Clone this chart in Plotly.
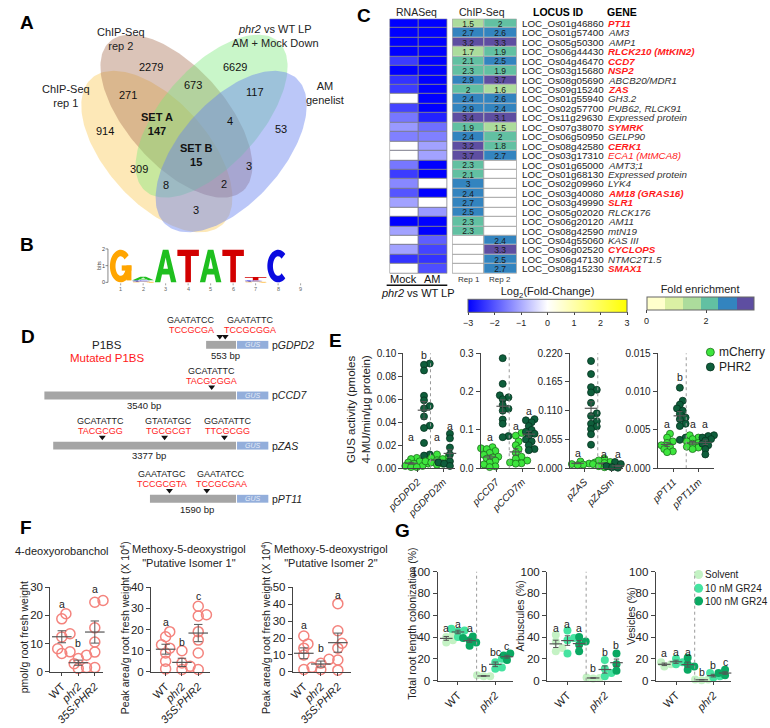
import numpy as np
import plotly.graph_objects as go

W, H = 770, 728
FONT = "Liberation Sans, Arial, Helvetica, sans-serif"

# ======================= DATA =======================
# --- Panel A: Venn diagram ---
venn_set_names = ["ChIP-Seq<br>rep 1", "ChIP-Seq<br>rep 2",
                  "<i>phr2</i> vs WT LP<br>AM + Mock Down", "AM<br>genelist"]
venn_counts = [914, 2279, 6629, 53, 271, 673, 117, 147, 4, 15, 309, 3, 8, 2, 3]
venn_region_tags = ["", "", "", "", "", "", "", "SET A", "", "SET B", "", "", "", "", ""]

# --- Panel B: P1BS motif logo (letter, bits), bottom -> top ---
logo_columns = [[("G", 1.95)],
                [("G", 0.05), ("C", 0.07), ("A", 0.22)],
                [("A", 1.95)], [("T", 1.95)], [("A", 1.95)], [("T", 1.95)],
                [("G", 0.05), ("C", 0.07), ("T", 0.2)],
                [("C", 1.95)], []]

# --- Panel C: heatmaps ---
c_loci = ["LOC_Os01g46860", "LOC_Os01g57400", "LOC_Os05g50300", "LOC_Os06g44430",
          "LOC_Os04g46470", "LOC_Os03g15680", "LOC_Os08g05690", "LOC_Os09g15240",
          "LOC_Os01g55940", "LOC_Os02g57700", "LOC_Os11g29630", "LOC_Os07g38070",
          "LOC_Os06g50950", "LOC_Os08g42580", "LOC_Os03g17310", "LOC_Os01g65000",
          "LOC_Os01g68130", "LOC_Os02g09960", "LOC_Os03g40080", "LOC_Os03g49990",
          "LOC_Os05g02020", "LOC_Os06g20120", "LOC_Os08g42590", "LOC_Os04g55060",
          "LOC_Os06g02520", "LOC_Os06g47130", "LOC_Os08g15230"]
c_genes = ["PT11", "AM3", "AMP1", "RLCK210 (MtKIN2)", "CCD7", "NSP2", "ABCB20/MDR1", "ZAS",
           "GH3.2", "PUB62, RLCK91", "Expressed protein", "SYMRK", "GELP90", "CERK1",
           "ECA1 (MtMCA8)", "AMT3;1", "Expressed protein", "LYK4", "AM18 (GRAS16)", "SLR1",
           "RLCK176", "AM11", "mtN19", "KAS III", "CYCLOPS", "NTMC2T1.5", "SMAX1"]
c_gene_mark = [2, 0, 0, 2, 2, 2, 0, 2, 0, 0, 0, 2, 0, 2, 1, 0, 0, 0, 2, 2, 0, 0, 0, 0, 2, 0, 2]
c_rna_mock = [-3, -3, -3, -3, -2.3, -3, -2.4, -2.3, 0, -2.2, -1.6, -1.2, -1.5, 0, 0,
              -1.6, -2.3, -1.4, -2.0, -1.1, 0, -3, -1.1, 0, -1.1, -2.4, 0]
c_rna_am = [-3, -3, -3, -3, -3, -3, -3, -3, -3, -3, -2.6, -1.7, -1.5, -1.1, -1.1,
            -3, -3, 0, -3, 0, -1.2, -3, -3, -1.9, -2.2, -2.4, -2.1]
c_chip_rep1 = [1.5, 2.7, 3.2, 1.7, 2.1, 2.3, 2.9, 2, 2.4, 2.9, 3.4, 1.9, 2.4, 3.2, 3.7,
               2.3, 2.1, 3, 2.4, 2.7, 2.5, 2.3, 2.3, None, None, None, None]
c_chip_rep2 = [2, 2.6, 3.3, 1.9, 2.5, 1.9, 3.7, 1.6, 2.6, 2.4, 3.1, 1.5, 2, 1.8, 2.7,
               None, None, None, None, None, None, None, None, 2.4, 3.3, 2.5, 2.7]
c_fc_ticks = [-3, -2, -1, 0, 1, 2, 3]
c_fe_ticks = [0, 2]

# --- Panel D: promoter constructs ---
d_promoters = ["GDPD2", "CCD7", "ZAS", "PT11"]
d_length_bp = [553, 3540, 3377, 1590]
d_site_bp = [[300, 200], [450], [2470, 1320, 215], [1230, 540]]
d_site_wt = [["GAATATCC", "GAATATTC"], ["GCATATTC"],
             ["GCATATTC", "GTATATGC", "GGATATTC"], ["GAATATGC", "GAATATCC"]]
d_site_mut = [["TCCGCGA", "TCCGCGGA"], ["TACGCGGA"],
              ["TACGCGG", "TGCGCGT", "TTCGCGG"], ["TCCGCGTA", "TCCGCGAA"]]

# --- Panel E: GUS activity ---
e_gdpd2_mch = [0.009, 0.008, 0.007, 0.006, 0.005, 0.004, 0.004, 0.003, 0.002, 0.002, 0.001, 0.001]
e_gdpd2_phr = [0.091, 0.090, 0.085, 0.063, 0.059, 0.054, 0.052, 0.045, 0.037, 0.035, 0.022, 0.012, 0.011]
e_gdpd2m_mch = [0.012, 0.010, 0.009, 0.008, 0.007, 0.006, 0.006, 0.005, 0.004, 0.003]
e_gdpd2m_phr = [0.032, 0.030, 0.026, 0.018, 0.012, 0.006, 0.005, 0.004, 0.004, 0.003, 0.002]
e_ccd7_mch = [0.055, 0.052, 0.050, 0.045, 0.040, 0.035, 0.030, 0.028, 0.025, 0.020, 0.015, 0.010, 0.005, 0.003]
e_ccd7_phr = [0.287, 0.220, 0.190, 0.185, 0.180, 0.165, 0.155, 0.150, 0.127, 0.116, 0.084, 0.081]
e_ccd7m_mch = [0.092, 0.085, 0.070, 0.060, 0.050, 0.040, 0.030, 0.025, 0.020, 0.015, 0.013, 0.012]
e_ccd7m_phr = [0.128, 0.125, 0.120, 0.110, 0.100, 0.095, 0.090, 0.085, 0.075, 0.070, 0.060, 0.050, 0.047]
e_zas_mch = [0.013, 0.012, 0.011, 0.010, 0.009, 0.008, 0.007, 0.006]
e_zas_phr = [0.205, 0.180, 0.155, 0.150, 0.145, 0.125, 0.105, 0.100, 0.090, 0.085, 0.080, 0.075, 0.065, 0.045]
e_zasm_mch = [0.018, 0.015, 0.012, 0.010, 0.008, 0.006, 0.004, 0.003, 0.002]
e_zasm_phr = [0.012, 0.008, 0.005, 0.004, 0.003, 0.002, 0.002, 0.001]
e_pt11_mch = [0.0045, 0.0040, 0.0035, 0.0033, 0.0030, 0.0028, 0.0025, 0.0022, 0.0021]
e_pt11_phr = [0.0105, 0.0088, 0.0083, 0.0078, 0.0075, 0.0071, 0.0066, 0.0064, 0.0058, 0.0055, 0.0040, 0.0037]
e_pt11m_mch = [0.0043, 0.0040, 0.0038, 0.0035, 0.0033, 0.0032, 0.0030, 0.0028, 0.0027, 0.0025]
e_pt11m_phr = [0.0043, 0.0042, 0.0040, 0.0038, 0.0036, 0.0032, 0.0030, 0.0025, 0.0018]
e_labels = [["pGDPD2", "pGDPD2m"], ["pCCD7", "pCCD7m"], ["pZAS", "pZASm"], ["pPT11", "pPT11m"]]
e_letters = [["a", "b", "a", "a"], ["a", "b", "a", "a"], ["a", "b", "a", "a"], ["a", "b", "a", "a"]]
e_letter_y = [[0.027, 0.098, 0.027, 0.037], [0.082, 0.308, 0.11, 0.149],
              [0.030, 0.229, 0.028, 0.028], [0.0058, 0.0119, 0.0058, 0.0058]]
e_yticks = [[0, 0.02, 0.04, 0.06, 0.08, 0.10], [0, 0.1, 0.2, 0.3],
            [0, 0.055, 0.110, 0.165, 0.220], [0, 0.005, 0.010, 0.015]]
e_legend = ["mCherry", "PHR2"]

# --- Panel F: strigolactones ---
f_titles = ["4-deoxyorobanchol", "Methoxy-5-deoxystrigol<br>\"Putative Isomer 1\"",
            "Methoxy-5-deoxystrigol<br>\"Putative Isomer 2\""]
f_ytitles = ["pmol/g root fresh weight", "Peak area/g root fresh weight (X 10<sup>4</sup>)",
             "Peak area/g root fresh weight (X 10<sup>4</sup>)"]
f_genotypes = ["WT", "<i>phr2</i>", "<i>35S:PHR2</i>"]
f_orobanchol = [[20.6, 18.8, 13.5, 12.4, 8.2, 7.1, 6.5], [5.9, 4.7, 2.9, 1.5, 1.2],
                [25.3, 24.7, 15.6, 10.6, 7.0, 1.5]]
f_isomer1 = [[19, 16.6, 12.8, 11.2, 8.9, 5.0, 1.4], [10, 4.2, 2.6, 1.1],
             [31, 27, 26.4, 19, 15, 8.9, 1.1]]
f_isomer2 = [[21.2, 16.5, 14, 10, 2.7, 1.4], [7.4, 5.1, 1.4],
             [40.3, 24.3, 16.9, 14, 7, 1]]
f_letters = [["a", "b", "a"], ["a", "b", "c"], ["a", "b", "a"]]
f_letter_y = [[24.1, 10.4, 29.4], [23.6, 14.3, 36], [27.6, 14, 45.7]]
f_ymax = [30, 40, 50]

# --- Panel G: colonization with GR24 ---
g_treatments = ["Solvent", "10 nM GR24", "100 nM GR24"]
g_genotypes = ["WT", "<i>phr2</i>"]
g_ytitles = ["Total root length colonization (%)", "Arbuscules (%)", "Vesicles (%)"]
g_total = [[43, 40, 37, 35], [47.5, 46, 45, 40], [40.5, 39, 37, 35, 32],
           [5, 4, 4], [20, 17, 12, 11], [25, 23, 21, 19]]
g_arbuscules = [[42, 36, 30, 27], [46, 39, 37, 25], [40, 36, 33, 27],
                [3, 2.5, 2], [19, 11, 7, 4], [25, 17, 15, 9]]
g_vesicles = [[17, 15, 13], [20, 17, 15], [21, 15, 13, 10],
              [1, 0.5, 1], [7, 4, 3], [10, 7, 5, 6]]
g_letters = [["a", "a", "a", "b", "bc", "c"], ["a", "a", "a", "b", "b", "b"],
             ["a", "a", "a", "b", "b", "c"]]
g_letter_y = [[48, 52, 48, 11.4, 26.4, 31.5], [48, 52, 48, 11.4, 26.4, 32.4],
              [25.5, 26.4, 26.4, 8.4, 14.4, 17.4]]
g_yticks = [0, 20, 40, 60, 80, 100]

# ======================= FIGURE =======================
fig = go.Figure()
ann, shp, axes = [], [], {}
axn = [1]


def new_axes(l, r, t, b, xopt, yopt):
    axn[0] += 1
    n = axn[0]
    axes[f"xaxis{n}"] = dict(domain=[l / W, r / W], anchor=f"y{n}", fixedrange=True, **xopt)
    axes[f"yaxis{n}"] = dict(domain=[1 - b / H, 1 - t / H], anchor=f"x{n}", fixedrange=True, **yopt)
    return f"x{n}", f"y{n}"


def text(x, y, s, size=10, color="#222", xanchor="center", yanchor="middle", angle=0,
         xref="x", yref="y"):
    ann.append(dict(x=x, y=y, xref=xref, yref=yref, text=s, showarrow=False,
                    font=dict(size=size, color=color, family=FONT), xanchor=xanchor,
                    yanchor=yanchor, textangle=angle, borderpad=0))


def path_of(polys):
    out = ""
    for poly in polys:
        out += "M " + " L ".join(f"{px:.2f},{py:.2f}" for px, py in poly) + " Z "
    return out


# ---- panel labels ----
for lab, (lx, ly) in zip("ABCDEFG", [(10, 17), (10, 243), (355, 10), (11, 336), (326, 340),
                                     (9, 530), (394, 533)]):
    text(lx, ly, f"<b>{lab}</b>", size=19, color="#000")

# ---- A: Venn ----
venn_ellipses = [(143, 148, 100, 52, 48, "rgba(250,205,95,0.45)"),
                 (163, 112, 102, 50, 48, "rgba(170,115,85,0.42)"),
                 (199, 112, 102, 50, -48, "rgba(120,232,120,0.40)"),
                 (219, 148, 100, 52, -48, "rgba(105,130,240,0.45)")]
tt = np.linspace(0, 2 * np.pi, 180)
for cx, cy, a, b, ang, col in venn_ellipses:
    th = np.radians(ang)
    ex = cx + a * np.cos(tt) * np.cos(th) - b * np.sin(tt) * np.sin(th)
    ey = cy + a * np.cos(tt) * np.sin(th) + b * np.sin(tt) * np.cos(th)
    fig.add_trace(go.Scatter(x=ex, y=ey, mode="lines", fill="toself", fillcolor=col,
                             line=dict(width=0), hoverinfo="skip", showlegend=False,
                             xaxis="x", yaxis="y"))
venn_label_pos = [(50, 92), (106, 34), (264, 30), (315, 88)]
for s, (px, py) in zip(venn_set_names, venn_label_pos):
    text(px, py, s, size=11, color="#222")
venn_region_pos = [(90, 127), (137, 62), (223, 62), (270, 125), (113, 90), (180, 80),
                   (243, 87), (143, 120), (218, 117), (183, 152), (125, 166), (237, 163),
                   (152, 182), (212, 181), (183, 207)]
for cnt, tag, (px, py) in zip(venn_counts, venn_region_tags, venn_region_pos):
    s = f"<b>{tag}<br>{cnt}</b>" if tag else str(cnt)
    text(px, py, s, size=11, color="#111")

# ---- B: logo ----


def arc(a0, a1, rxi=0.24, ryi=0.3, n=40):
    q = np.radians(np.linspace(a0, a1, n))
    outer = [(0.5 + 0.5 * np.cos(v), 0.5 + 0.5 * np.sin(v)) for v in q]
    inner = [(0.5 + rxi * np.cos(v), 0.5 + ryi * np.sin(v)) for v in q[::-1]]
    return outer + inner


GLYPHS = {
    "A": [[[(0, 0), (0.37, 1), (0.63, 1), (1, 0), (0.75, 0), (0.67, 0.24), (0.33, 0.24), (0.25, 0)],
           [(0.39, 0.42), (0.61, 0.42), (0.5, 0.76)]]],
    "T": [[[(0, 1), (1, 1), (1, 0.81), (0.63, 0.81), (0.63, 0), (0.37, 0), (0.37, 0.81), (0, 0.81)]]],
    "C": [[arc(48, 312)]],
    "G": [[arc(42, 345)], [[(0.55, 0.36), (1, 0.36), (1, 0.52), (0.55, 0.52)]],
          [[(0.77, 0.06), (1, 0.06), (1, 0.52), (0.77, 0.52)]]],
}
LOGO_COL = {"A": "#1fbf1f", "C": "#0a0ae0", "G": "#ffa500", "T": "#d20000"}
LOGO_X0, LOGO_W, LOGO_BASE, BIT_PX = 95, 22, 281, 17
for i, stack in enumerate(logo_columns):
    x0 = LOGO_X0 + 23 * i
    base = LOGO_BASE
    for letter, bits in stack:
        h = bits * BIT_PX
        for polys in GLYPHS[letter]:
            tp = [[(x0 + u * LOGO_W, base - v * h) for u, v in poly] for poly in polys]
            shp.append(dict(type="path", path=path_of(tp), xref="x", yref="y",
                            fillcolor=LOGO_COL[letter], line=dict(width=0)))
        base -= h
    shp.append(dict(type="line", xref="x", yref="y", x0=x0 + 11, x1=x0 + 11, y0=282, y1=284,
                    line=dict(color="#666", width=0.6)))
    text(x0 + 11, 288, str(i + 1), size=5.5, color="#666")
shp.append(dict(type="line", xref="x", yref="y", x0=93, x1=93, y0=LOGO_BASE - 2 * BIT_PX,
                y1=LOGO_BASE, line=dict(color="#555", width=0.7)))
for k in range(3):
    yk = LOGO_BASE - k * BIT_PX
    shp.append(dict(type="line", xref="x", yref="y", x0=90.5, x1=93, y0=yk, y1=yk,
                    line=dict(color="#555", width=0.7)))
    text(88, yk, str(k), size=5.5, color="#444")
text(83, LOGO_BASE - BIT_PX, "bits", size=5.5, color="#444", angle=-90)

# ---- C: heatmaps ----
NR = len(c_loci)
C_TOP, C_BOT = 13, 272
row_h = (C_BOT - C_TOP) / NR
rows = list(range(NR))
hx = dict(range=[-0.5, 1.5], visible=False)
hy = dict(range=[NR - 0.5, -0.5], visible=False)
CB_Y = 1 - 284 / H

xr, yr = new_axes(381, 440, C_TOP, C_BOT, hx, hy)
shp.append(dict(type="rect", xref=xr, yref=yr, x0=-0.5, x1=1.5, y0=-0.5, y1=NR - 0.5,
                fillcolor="#7d7d8c", line=dict(width=0), layer="below"))
fig.add_trace(go.Heatmap(
    x=[0, 1], y=rows, z=[[m, a] for m, a in zip(c_rna_mock, c_rna_am)],
    zmin=-3, zmax=3, colorscale=[[0, "#0000ff"], [0.5, "#ffffff"], [1, "#ffff00"]],
    xgap=1, ygap=1, hoverinfo="skip", xaxis=xr, yaxis=yr,
    colorbar=dict(orientation="h", x=542.5 / W, xanchor="center", y=CB_Y, yanchor="top",
                  len=159, lenmode="pixels", thickness=13, xpad=0, ypad=0,
                  outlinewidth=1, outlinecolor="#666", tickvals=c_fc_ticks, ticks="outside",
                  ticklen=3, tickfont=dict(size=9, family=FONT, color="#222"),
                  title=dict(text="Log<sub>2</sub>(Fold-Change)", side="top",
                             font=dict(size=11, family=FONT, color="#222")))))
shp.append(dict(type="rect", xref=xr, yref=yr, x0=-0.5, x1=1.5, y0=-0.5, y1=NR - 0.5,
                line=dict(color="#8a8a8a", width=1)))

xc_, yc_ = new_axes(445, 511, C_TOP, C_BOT, hx, hy)
shp.append(dict(type="rect", xref=xc_, yref=yc_, x0=-0.5, x1=1.5, y0=-0.5, y1=NR - 0.5,
                fillcolor="#a0a0a0", line=dict(width=0), layer="below"))
fig.add_trace(go.Heatmap(x=[0, 1], y=rows, z=[[1, 1] for _ in rows], zmin=0, zmax=1,
                         colorscale=[[0, "white"], [1, "white"]], showscale=False,
                         xgap=1, ygap=1, hoverinfo="skip", xaxis=xc_, yaxis=yc_))
fe_cols = ["#ffffcc", "#dbf0a4", "#acdc9c", "#62c0a2", "#3384bf", "#5e4ea1"]
fe_b = [0, 1 / 6, 2 / 6, 0.5, 0.661, 0.839, 1]
fe_scale = []
for k, c in enumerate(fe_cols):
    fe_scale += [[fe_b[k], c], [fe_b[k + 1], c]]
fig.add_trace(go.Heatmap(
    x=[0, 1], y=rows, z=[[r1, r2] for r1, r2 in zip(c_chip_rep1, c_chip_rep2)],
    text=[["" if r1 is None else f"{r1:g}", "" if r2 is None else f"{r2:g}"]
          for r1, r2 in zip(c_chip_rep1, c_chip_rep2)],
    texttemplate="%{text}", textfont=dict(size=8.5, family=FONT, color="#1a1a1a"),
    zmin=0, zmax=3.6, colorscale=fe_scale, xgap=1, ygap=1, hoverinfo="skip",
    xaxis=xc_, yaxis=yc_,
    colorbar=dict(orientation="h", x=698.5 / W, xanchor="center", y=CB_Y, yanchor="top",
                  len=107, lenmode="pixels", thickness=13, xpad=0, ypad=0,
                  outlinewidth=1, outlinecolor="#666", tickvals=c_fe_ticks, ticks="outside",
                  ticklen=3, tickfont=dict(size=9, family=FONT, color="#222"),
                  title=dict(text="Fold enrichment", side="top",
                             font=dict(size=11, family=FONT, color="#222")))))
shp.append(dict(type="rect", xref=xc_, yref=yc_, x0=-0.5, x1=1.5, y0=-0.5, y1=NR - 0.5,
                line=dict(color="#a0a0a0", width=1)))

text(409, 6, "RNASeq", size=10.5)
text(476, 6, "ChIP-Seq", size=10.5)
text(554, 6, "<b>LOCUS ID</b>", size=10.5, color="#000")
text(602, 6, "<b>GENE</b>", size=10.5, color="#000", xanchor="left")
for i in rows:
    yy = C_TOP + (i + 0.5) * row_h
    text(515, yy, c_loci[i], size=9.8, color="#222", xanchor="left")
    g = c_genes[i]
    if c_gene_mark[i] == 2:
        s, col = f"<b><i>{g}</i></b>", "#ff1a1a"
    elif c_gene_mark[i] == 1:
        s, col = f"<i>{g}</i>", "#ff1a1a"
    else:
        s, col = f"<i>{g}</i>", "#333"
    text(603, yy, s, size=9.8, color=col, xanchor="left")
text(395, 278, "Mock", size=11, color="#111")
text(425, 278, "AM", size=11, color="#111")
shp.append(dict(type="line", xref="x", yref="y", x0=378, x1=440, y0=284, y1=284,
                line=dict(color="#111", width=1.5)))
text(410, 292, "<i>phr2</i> vs WT LP", size=11, color="#111")
text(462, 278, "Rep 1", size=8, color="#333")
text(494, 278, "Rep 2", size=8, color="#333")

# ---- D: promoter diagrams ----
D_END, D_LEFT = 224, 28
d_scale = (D_END - D_LEFT) / max(d_length_bp)
d_row_y = [344.5, 396, 447, 501]
d_label_dx = [[-29, 25], [0], [-2, 4, 3], [-8, 15]]
text(92, 345, "P1BS", size=11.5, color="#222")
text(92, 358, "Mutated P1BS", size=11.5, color="#ff1a1a")
for k, prom in enumerate(d_promoters):
    yc = d_row_y[k]
    x_start = D_END - d_length_bp[k] * d_scale
    shp.append(dict(type="rect", xref="x", yref="y", x0=x_start, x1=D_END, y0=yc - 4, y1=yc + 4,
                    fillcolor="#a5a5a5", line=dict(width=0)))
    shp.append(dict(type="rect", xref="x", yref="y", x0=D_END + 1, x1=257, y0=yc - 4, y1=yc + 4,
                    fillcolor="#93aedb", line=dict(width=0)))
    text(241, yc, "<i>GUS</i>", size=7, color="#e6ecf7")
    text(260, yc, f"p<i>{prom}</i>", size=10.5, color="#222", xanchor="left")
    text((x_start + D_END) / 2 + 4, yc + 10.5, f"{d_length_bp[k]} bp", size=9.5, color="#222")
    sx = [D_END - bp * d_scale for bp in d_site_bp[k]]
    fig.add_trace(go.Scatter(x=sx, y=[yc - 8.5] * len(sx), mode="markers",
                             marker=dict(symbol="triangle-down", size=6, color="#111"),
                             hoverinfo="skip", showlegend=False, xaxis="x", yaxis="y"))
    for j, xs in enumerate(sx):
        lx = xs + d_label_dx[k][j]
        text(lx, yc - 25, d_site_wt[k][j], size=9, color="#222")
        text(lx, yc - 15, d_site_mut[k][j], size=9, color="#ff1a1a")

# ---- shared axis styles ----
AXY = dict(showline=True, linecolor="#444", linewidth=1, showgrid=False, zeroline=False,
           ticks="outside", ticklen=4, tickcolor="#444",
           tickfont=dict(size=10, family=FONT, color="#222"))
AXX = dict(showline=True, linecolor="#444", linewidth=1, showgrid=False, zeroline=False,
           ticks="outside", ticklen=3, tickcolor="#444", tickangle=-45,
           tickfont=dict(size=10, family=FONT, color="#222"))


def swarm(vals, xc, ppx, ppy, diam):
    vals = np.asarray(vals, float)
    xs = np.zeros(len(vals))
    placed = []
    step, mind = diam * 0.42, diam * 0.6
    for i in np.argsort(vals):
        yp = vals[i] * ppy
        off = 0.0
        for k in range(40):
            off = 0.0 if k == 0 else ((k + 1) // 2) * step * (1 if k % 2 else -1)
            if all((off - px) ** 2 + (yp - py) ** 2 >= mind ** 2 for px, py in placed):
                break
        placed.append((off, yp))
        xs[i] = xc + off / ppx
    return xs


def dot_panel(box, xrange, yrange, yticks, ytickfmt, xtickvals, xticktext, groups, xpos,
              markers, diam, meanw, letters, letter_y, dividers, tickfs=10, xtickfs=10):
    l, r, t, b = box
    xa, ya = new_axes(l, r, t, b,
                      dict(AXX, range=xrange, tickvals=xtickvals, ticktext=xticktext,
                           tickfont=dict(size=xtickfs, family=FONT, color="#222")),
                      dict(AXY, range=yrange, tickvals=yticks, tickformat=ytickfmt,
                           tickfont=dict(size=tickfs, family=FONT, color="#222")))
    ppx = (r - l) / (xrange[1] - xrange[0])
    ppy = (b - t) / (yrange[1] - yrange[0])
    for vals, xc, mk in zip(groups, xpos, markers):
        xs = swarm(vals, xc, ppx, ppy, diam)
        fig.add_trace(go.Scatter(x=xs, y=vals, mode="markers", marker=mk, cliponaxis=False,
                                 hoverinfo="skip", showlegend=False, xaxis=xa, yaxis=ya))
        v = np.asarray(vals, float)
        mean, sem = v.mean(), v.std(ddof=1) / np.sqrt(len(v))
        fig.add_trace(go.Scatter(x=[xc], y=[mean], mode="markers", cliponaxis=False,
                                 marker=dict(symbol="line-ew", size=meanw,
                                             line=dict(color="#555", width=1.2)),
                                 error_y=dict(type="data", array=[sem], color="#555",
                                              thickness=1, width=meanw * 0.3),
                                 hoverinfo="skip", showlegend=False, xaxis=xa, yaxis=ya))
    for lt, ly, xc in zip(letters, letter_y, xpos):
        text(xc, ly, lt, size=10.5, color="#222", xref=xa, yref=ya)
    for dv in dividers:
        shp.append(dict(type="line", xref=xa, yref=ya, x0=dv, x1=dv, y0=0, y1=yrange[1],
                        line=dict(color="#999", width=1, dash="dot")))
    return xa, ya


# ---- E ----
MK_MCH = dict(size=7, color="#3de53d", line=dict(color="#1d6e1d", width=0.8))
MK_PHR = dict(size=7, color="#0e5e3b", line=dict(color="#06331f", width=0.8))
e_groups = [[e_gdpd2_mch, e_gdpd2_phr, e_gdpd2m_mch, e_gdpd2m_phr],
            [e_ccd7_mch, e_ccd7_phr, e_ccd7m_mch, e_ccd7m_phr],
            [e_zas_mch, e_zas_phr, e_zasm_mch, e_zasm_phr],
            [e_pt11_mch, e_pt11_phr, e_pt11m_mch, e_pt11m_phr]]
e_boxes = [(395, 448, 353, 470), (474, 530, 353, 470), (565, 620, 353, 470), (655, 713, 353, 470)]
e_xr = [[-0.6, 3.4], [-0.7, 3.5], [-0.6, 3.4], [-0.75, 3.7]]
e_fmt = [".2f", ".1f", ".3f", ".3f"]
for k in range(4):
    dot_panel(e_boxes[k], e_xr[k], [0, e_yticks[k][-1]], e_yticks[k], e_fmt[k], [0.5, 2.5],
              [f"<i>{s}</i>" for s in e_labels[k]], e_groups[k], [0, 1, 2, 3],
              [MK_MCH, MK_PHR, MK_MCH, MK_PHR], 7, 9, e_letters[k], e_letter_y[k], [1.5])
text(349, 410, "GUS activity (pmoles<br>4-MU/min/µg protein)", size=11.5, color="#222", angle=-90)
for mk, lab, ly in zip([MK_MCH, MK_PHR], e_legend, [352, 367]):
    fig.add_trace(go.Scatter(x=[709], y=[ly], mode="markers", marker=dict(mk, size=8),
                             hoverinfo="skip", showlegend=False, xaxis="x", yaxis="y"))
    text(717, ly, lab, size=12, color="#222", xanchor="left")

# ---- F ----
MK_F = dict(symbol="circle-open", size=10, color="#f4837d", line=dict(width=1.5))
f_data = [f_orobanchol, f_isomer1, f_isomer2]
f_boxes = [(34, 88, 591, 677), (137, 197, 591, 677), (282, 342, 591, 677)]
f_xr = [[-0.7, 2.5], [-0.9, 2.7], [-0.65, 2.8]]
for k in range(3):
    dot_panel(f_boxes[k], f_xr[k], [0, f_ymax[k]], list(range(0, f_ymax[k] + 1, 10)), "d",
              [0, 1, 2], f_genotypes, f_data[k], [0, 1, 2], [MK_F] * 3, 10, 14,
              f_letters[k], f_letter_y[k], [], tickfs=11.5, xtickfs=11)
text(46, 554, f_titles[0], size=11, color="#222")
text(176, 559, f_titles[1], size=11, color="#222")
text(321, 559, f_titles[2], size=11, color="#222")
text(8, 642, f_ytitles[0], size=10.5, color="#222", angle=-90)
text(110, 632, f_ytitles[1], size=10.5, color="#222", angle=-90)
text(254, 632, f_ytitles[2], size=10.5, color="#222", angle=-90)

# ---- G ----
G_COLS = ["#c4f2c4", "#45e3a0", "#0aa862"]
MK_G = [dict(size=8, color=c) for c in G_COLS]
g_data = [g_total, g_arbuscules, g_vesicles]
g_boxes = [(430, 507, 575, 686), (542, 619, 575, 686), (653, 730, 575, 686)]
g_xpos = [0, 1, 2, 3.2, 4.2, 5.2]
for k in range(3):
    dot_panel(g_boxes[k], [-0.75, 5.7], [0, 100], g_yticks, "d", [1, 4.2], g_genotypes,
              g_data[k], g_xpos, MK_G * 2, 8, 9, g_letters[k], g_letter_y[k], [2.6],
              tickfs=11.5, xtickfs=11)
text(404, 628, g_ytitles[0], size=10.5, color="#222", angle=-90)
text(514, 620, g_ytitles[1], size=10.5, color="#222", angle=-90)
text(628, 620, g_ytitles[2], size=10.5, color="#222", angle=-90)
for mk, lab, ly in zip(MK_G, g_treatments, [578, 592, 605]):
    fig.add_trace(go.Scatter(x=[697], y=[ly], mode="markers", marker=dict(mk, size=9),
                             hoverinfo="skip", showlegend=False, xaxis="x", yaxis="y"))
    text(703, ly, lab, size=10, color="#222", xanchor="left")

fig.update_layout(
    width=W, height=H, margin=dict(l=0, r=0, t=0, b=0), autosize=False,
    paper_bgcolor="white", plot_bgcolor="rgba(0,0,0,0)", showlegend=False, hovermode=False,
    font=dict(family=FONT, color="#222"),
    xaxis=dict(domain=[0, 1], range=[0, W], visible=False, fixedrange=True),
    yaxis=dict(domain=[0, 1], range=[H, 0], visible=False, fixedrange=True),
    annotations=ann, shapes=shp, **axes)
fig.write_html("out.html", config={"displayModeBar": False, "staticPlot": True},
               post_script="document.body.style.margin='0px';document.body.style.padding='0px';"
                           "document.body.style.overflow='hidden';")
